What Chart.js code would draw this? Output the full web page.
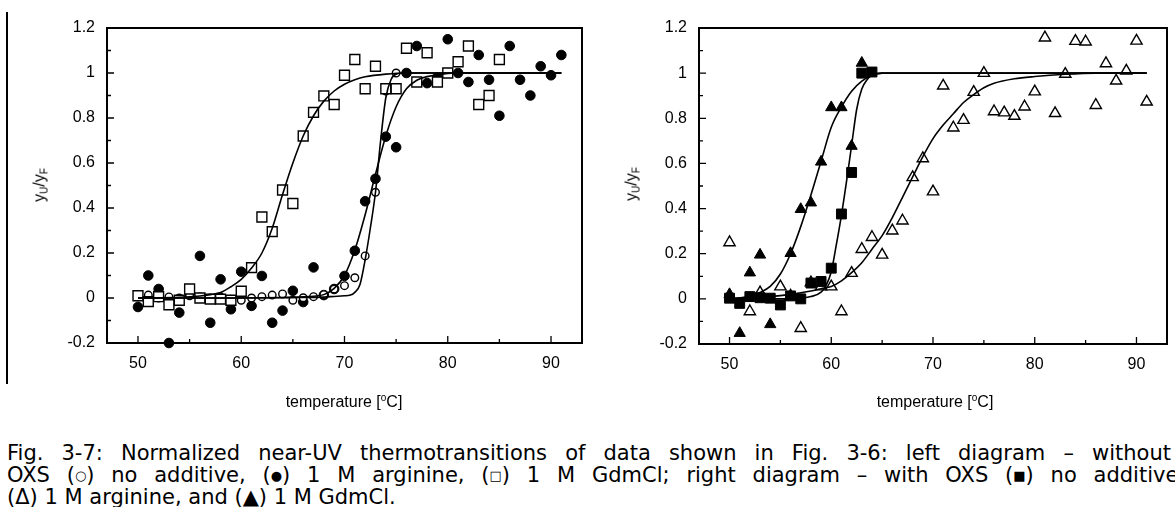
<!DOCTYPE html>
<html>
<head>
<meta charset="utf-8">
<script src="https://cdn.jsdelivr.net/npm/chart.js@4.4.1/dist/chart.umd.min.js"></script>
<style>
  body { margin: 0; background: #fff; width: 1175px; height: 507px; overflow: hidden; position: relative; font-family: "Liberation Sans", Arial, sans-serif; }
  .box { position: absolute; top: 0; }
  .ylab { position: absolute; font-size: 16px; white-space: nowrap; transform: translate(-50%, -50%) rotate(-90deg); }
  .ylab sub { font-size: 10px; vertical-align: -3px; }
  .xlab { position: absolute; font-size: 16px; white-space: nowrap; transform: translate(-50%, -50%); }
  .xlab sup { font-size: 10px; vertical-align: 6px; }
  #rule { position: absolute; left: 6px; top: 12px; width: 2px; height: 372px; background: #000; }
  .cap { position: absolute; left: 7px; font-family: "DejaVu Sans", Verdana, sans-serif; font-size: 21px; line-height: 22px; color: #000; }
  .just { text-align: justify; text-align-last: justify; }
  .cap .k { display: inline-block; white-space: nowrap; }
  .cap .sym { font-size: 13px; vertical-align: 2px; }
</style>
</head>
<body>
<div id="rule"></div>
<div class="box" style="left:0;width:600px;height:400px"><canvas id="left" width="600" height="400"></canvas></div>
<div class="box" style="left:590px;width:585px;height:400px"><canvas id="right" width="585" height="400"></canvas></div>
<div class="ylab" style="left:40px;top:185px">y<sub>U</sub>/y<sub>F</sub></div>
<div class="ylab" style="left:632px;top:184px">y<sub>U</sub>/y<sub>F</sub></div>
<div class="xlab" style="left:344px;top:401px">temperature [<sup>o</sup>C]</div>
<div class="xlab" style="left:935px;top:401px">temperature [<sup>o</sup>C]</div>
<div class="cap just" style="top:442px;width:1164px">Fig. 3-7: Normalized near-UV thermotransitions of data shown in Fig. 3-6: left diagram – without</div>
<div class="cap just" style="top:464px;width:1178px">OXS <span class="k">(<span class="sym">○</span>)</span> no additive, <span class="k">(<span class="sym">●</span>)</span> 1 M arginine, <span class="k">(<span class="sym">□</span>)</span> 1 M GdmCl; right diagram – with OXS <span class="k">(<span class="sym">■</span>)</span> no additive,</div>
<div class="cap" style="top:486px;white-space:nowrap">(Δ) 1 M arginine, and (▲) 1 M GdmCl.</div>
<script>
// axis ticks
const xMajor = [50, 60, 70, 80, 90];
const xMinor = [55, 65, 75, 85];
const yMajor = [-0.2, 0, 0.2, 0.4, 0.6, 0.8, 1, 1.2];
const yMinor = [-0.1, 0.1, 0.3, 0.5, 0.7, 0.9, 1.1];

// ---- left diagram (without OXS) ----
const noAddL_T = [50,51,52,53,54,55,56,57,58,59,60,61,62,63,64,65,66,67,68,69,70,71,72,73,74,75];
const noAddL_Y = [0.005,0.013,0,0.005,0,0.01,0.005,0,0.005,-0.005,-0.01,0,0.006,0.013,0.018,-0.01,0.001,0.006,0.015,0.04,0.055,0.09,0.187,0.47,0.92,1.0];

const argL_T = [50,51,52,53,54,55,56,57,58,59,60,61,62,63,64,65,66,67,68,69,70,71,72,73,74,75,76,77,78,79,80,81,82,83,84,85,86,87,88,89,90,91];
const argL_Y = [-0.04,0.10,0.04,-0.2,-0.065,0.02,0.187,-0.11,0.083,-0.05,0.117,-0.035,0.098,-0.11,-0.056,0.032,-0.018,0.136,0.013,0.04,0.098,0.21,0.43,0.53,0.717,0.67,1.0,1.12,0.955,0.98,1.15,1.0,0.96,1.08,0.97,0.81,1.12,0.97,0.90,1.03,0.99,1.08];

const gdmL_T = [50,51,52,53,54,55,56,57,58,59,60,61,62,63,64,65,66,67,68,69,70,71,72,73,74,75,76,77,78,79,80,81,82,83,84,85];
const gdmL_Y = [0.01,-0.016,0.006,-0.03,-0.01,0.04,0,-0.005,-0.005,-0.01,0.03,0.135,0.36,0.295,0.48,0.42,0.72,0.825,0.898,0.86,0.99,1.06,0.93,1.03,0.93,0.93,1.11,0.96,1.09,0.96,1.0,1.05,1.12,0.86,0.90,1.06];

// fitted curves
const fitGdmL_T = [50,54,56,57,58,59,60,61,62,63,64,65,66,67,68,69,70,71,72,74,76,80,91];
const fitGdmL_Y = [0,0.003,0.009,0.015,0.024,0.05,0.083,0.133,0.2,0.31,0.46,0.6,0.72,0.81,0.875,0.92,0.95,0.97,0.983,0.995,1,1,1];
const fitNoAddL_T = [50,60,66,68,69,70,70.5,71,71.5,72,72.5,73,73.5,74,74.5,75,76,80,91];
const fitNoAddL_Y = [0,0,0.002,0.004,0.007,0.01,0.012,0.025,0.06,0.17,0.31,0.47,0.7,0.89,0.97,0.995,1,1,1];
const fitArgL_T = [50,60,64,66,67,68,69,70,71,72,73,74,75,76,77,78,80,82,91];
const fitArgL_Y = [0,0,0.002,0.005,0.008,0.015,0.043,0.1,0.213,0.37,0.55,0.72,0.85,0.93,0.968,0.984,0.998,1,1];

// ---- right diagram (with OXS) ----
const noAddR_T = [50,51,52,53,54,55,56,57,58,59,60,61,62,63,64];
const noAddR_Y = [0.003,-0.02,0.01,0.005,0.003,-0.027,0.013,0,0.07,0.077,0.136,0.376,0.56,1.0,1.005];

const argR_T = [50,52,53,55,56,57,58,59,60,61,62,63,64,65,66,67,68,69,70,71,72,73,74,75,76,77,78,79,80,81,82,83,84,85,86,87,88,89,90,91];
const argR_Y = [0.25,-0.056,0.028,0.054,0.013,-0.13,0.072,0.054,0.054,-0.056,0.114,0.22,0.273,0.195,0.302,0.346,0.538,0.622,0.475,0.944,0.758,0.792,0.916,1.0,0.83,0.825,0.81,0.851,0.918,1.157,0.822,0.996,1.142,1.139,0.858,1.043,0.966,1.01,1.143,0.873];

const gdmR_T = [50,51,52,53,54,56,57,58,59,60,61,62,63];
const gdmR_Y = [0.02,-0.152,0.116,0.195,-0.113,0.202,0.397,0.426,0.607,0.848,0.848,0.677,1.045];

const fitGdmR_T = [50,51,52,53,54,55,56,57,58,59,60,61,62,63,64,65,70,91];
const fitGdmR_Y = [0,0.005,0.012,0.028,0.055,0.11,0.2,0.32,0.46,0.61,0.76,0.85,0.92,0.965,0.99,1,1,1];
const fitNoAddR_T = [50,56,57,58,59,59.5,60,60.5,61,61.5,62,62.5,63,63.5,64,65,70,91];
const fitNoAddR_Y = [0,0,0.003,0.01,0.03,0.06,0.12,0.24,0.37,0.52,0.68,0.84,0.93,0.97,0.99,1,1,1];
const fitArgR_T = [50,52,54,56,58,59,60,61,62,63,64,65,66,67,68,69,70,71,72,73,74,75,76,78,80,83,86,91];
const fitArgR_Y = [0,0.005,0.01,0.02,0.035,0.045,0.055,0.08,0.116,0.16,0.22,0.28,0.36,0.45,0.54,0.63,0.71,0.77,0.82,0.87,0.905,0.935,0.955,0.975,0.985,0.995,1,1];

const pts = (xs, ys) => xs.map((x, i) => ({ x, y: ys[i] }));

function curve(xs, ys) {
  return {
    data: pts(xs, ys), showLine: true, pointRadius: 0, borderColor: '#000',
    borderWidth: 1.6, cubicInterpolationMode: 'monotone', fill: false
  };
}
function marks(xs, ys, style, r, filled) {
  return {
    data: pts(xs, ys), showLine: false, pointStyle: style, pointRadius: r, pointHoverRadius: r,
    backgroundColor: filled ? '#000' : '#fff', borderColor: '#000', borderWidth: filled ? 1 : 1.4
  };
}

// box + inward ticks
const frame = {
  id: 'frame',
  afterDraw(chart) {
    const { ctx, chartArea: a, scales: { x, y } } = chart;
    ctx.save();
    ctx.strokeStyle = '#000';
    ctx.lineWidth = 2;
    ctx.strokeRect(a.left, a.top, a.right - a.left, a.bottom - a.top);
    ctx.lineWidth = 1.3;
    ctx.beginPath();
    xMajor.forEach(v => { const p = x.getPixelForValue(v); ctx.moveTo(p, a.bottom); ctx.lineTo(p, a.bottom - 7); });
    xMinor.forEach(v => { const p = x.getPixelForValue(v); ctx.moveTo(p, a.bottom); ctx.lineTo(p, a.bottom - 4); });
    yMajor.forEach(v => { const p = y.getPixelForValue(v); ctx.moveTo(a.left, p); ctx.lineTo(a.left + 7, p); });
    yMinor.forEach(v => { const p = y.getPixelForValue(v); ctx.moveTo(a.left, p); ctx.lineTo(a.left + 4, p); });
    ctx.stroke();
    ctx.restore();
  }
};

function makeChart(id, datasets, pad) {
  const font = { family: '"Liberation Sans", Arial, sans-serif', size: 16 };
  return new Chart(document.getElementById(id), {
    type: 'scatter',
    data: { datasets },
    options: {
      responsive: false,
      animation: false,
      events: [],
      layout: { padding: pad },
      datasets: { scatter: { clip: 12 } },
      plugins: { legend: { display: false }, tooltip: { enabled: false } },
      scales: {
        x: {
          type: 'linear', min: 47, max: 93,
          afterBuildTicks: s => { s.ticks = xMajor.map(v => ({ value: v })); },
          afterFit: s => { s.height = 40; },
          grid: { display: false, drawTicks: false },
          border: { display: false },
          ticks: { color: '#000', font, padding: 11, maxRotation: 0, callback: v => String(v) }
        },
        y: {
          type: 'linear', min: -0.2, max: 1.2,
          afterBuildTicks: s => { s.ticks = yMajor.map(v => ({ value: v })); },
          afterFit: s => { s.width = 60; },
          grid: { display: false, drawTicks: false },
          border: { display: false },
          ticks: { color: '#000', font, padding: 12, callback: v => String(v) }
        }
      }
    },
    plugins: [frame]
  });
}

makeChart('left', [
  curve(fitGdmL_T, fitGdmL_Y),
  curve(fitNoAddL_T, fitNoAddL_Y),
  curve(fitArgL_T, fitArgL_Y),
  marks(gdmL_T, gdmL_Y, 'rect', 7, false),
  marks(noAddL_T, noAddL_Y, 'circle', 3.8, false),
  marks(argL_T, argL_Y, 'circle', 4.8, true)
], { left: 47, top: 28, right: 18, bottom: 17 });

makeChart('right', [
  curve(fitGdmR_T, fitGdmR_Y),
  curve(fitNoAddR_T, fitNoAddR_Y),
  curve(fitArgR_T, fitArgR_Y),
  marks(noAddR_T, noAddR_Y, 'rect', 7, true),
  marks(gdmR_T, gdmR_Y, 'triangle', 6.5, true),
  marks(argR_T, argR_Y, 'triangle', 6.5, false)
], { left: 49, top: 28, right: 4, bottom: 16 });
</script>
</body>
</html>
